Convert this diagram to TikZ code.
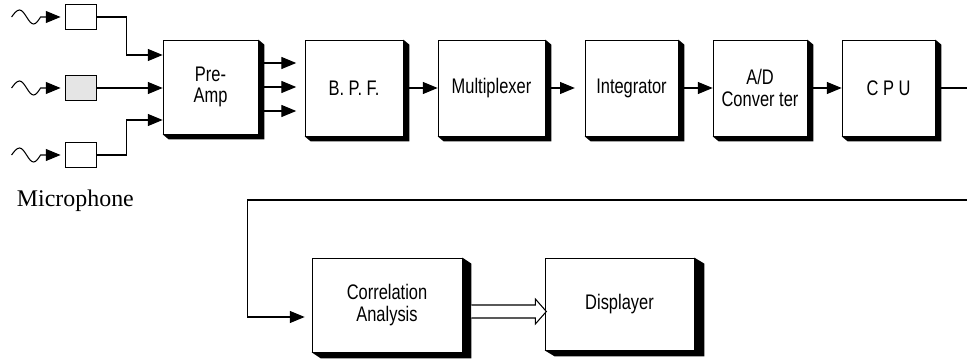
\documentclass[tikz,border=0pt]{standalone}
\usepackage{fontspec}
\usetikzlibrary{arrows.meta,calc}
\newfontfamily\boxfont[FakeStretch=0.78]{Liberation Sans}
\newfontfamily\labelfont{Liberation Serif}
\newcommand{\pxu}{0.025cm}

\tikzset{
  block/.style 2 args={draw, line width=0.5pt, fill=white, inner sep=0pt, align=center,
    font=\boxfont\fontsize{15}{15.5}\selectfont,
    minimum width=#1*\pxu, minimum height=#2*\pxu},
  micbox/.style={draw, line width=0.6pt, minimum width=31*\pxu, minimum height=25*\pxu, inner sep=0pt},
  wire/.style={line width=0.75pt},
  arr/.style={wire, -{Triangle[length=10.5pt,width=8.5pt]}},
}

\begin{document}
\begin{tikzpicture}[x=\pxu, y=-\pxu]
  \useasboundingbox (0,0) rectangle (967,359);

  % Microphones
  \node[micbox] (mic1) at (80.5,17) {};
  \node[micbox, fill=gray!20] (mic2) at (80.5,88) {};
  \node[micbox] (mic3) at (80.5,155) {};
  \node[anchor=base west, font=\labelfont\fontsize{17}{19}\selectfont] (miclabel) at (12,207) {Microphone};

  % Blocks
  \node[block={95}{94}] (preamp) at (210.5,87) {Pre-\\Amp};
  \node[block={98}{96}] (bpf) at (354,88) {B. P. F.};
  \node[block={107}{96}] (mux) at (491.5,88) {Multiplexer};
  \node[block={93}{96}] (integ) at (631.5,88) {Integrator};
  \node[block={94}{96}] (adc) at (760,88) {A/D\\Conver ter};
  \node[block={93}{96}] (cpu) at (888.5,88) {C P U};
  \node[block={150}{94}] (corr) at (387,305) {Correlation\\Analysis};
  \node[block={149}{92}] (disp) at (619.5,304) {Displayer};

  % Shadows
  \foreach \n/\dx/\dy in {preamp/6/5, bpf/6/5, mux/6/5, integ/6/5, adc/6/5, cpu/6/5, corr/9/6, disp/10/6} {
    \fill (\n.north east) -- ++(\dx,\dy) -- ($(\n.south east)+(\dx,\dy)$)
      -- ($(\n.south west)+(\dx,\dy)$) -- (\n.south west) -- (\n.south east) -- cycle;
    \coordinate (\n-out) at ($(\n.east)+(\dx,0)$);
  }

  % Waves
  \foreach \m in {mic1,mic2,mic3}
    \draw[arr] ($(\m.west)+(-53,0)$) sin ++(8,-7) cos ++(7,7) sin ++(7,7) cos ++(7,-7)
      -- ($(\m.west)+(-4,0)$);

  % Inputs
  \draw[arr] (mic1.east) -- ++(30,0) |- ($(preamp.west)+(0,-32)$);
  \draw[arr] (mic2.east) -- (mic2.east -| preamp.west);
  \draw[arr] (mic3.east) -- ++(30,0) |- ($(preamp.west)+(0,33)$);

  % Pre-Amp outputs
  \foreach \i/\d in {1/-24,2/0,3/24} {
    \coordinate (po\i) at ($(preamp-out)+(0,\d)$);
    \draw[arr, shorten >=6pt] (po\i) -- (po\i -| bpf.west);
  }

  % Chain
  \draw[arr] (bpf-out) -- (mux.west);
  \draw[arr, shorten >=7pt] (mux-out) -- (integ.west);
  \draw[arr] (integ-out) -- (adc.west);
  \draw[arr] (adc-out) -- (cpu.west);

  % Feedback loop
  \coordinate (edge) at (967,0);
  \coordinate (fb) at (967,200);
  \draw[wire] (cpu-out) -- (cpu-out -| edge);
  \draw[arr] (fb) -| ($(corr.west)+(-64,12)$) -- ($(corr.west)+(-7,12)$);

  % Hollow arrow
  \draw[wire, fill=white] (corr-out) -- ++(64,0) -- ++(0,-6) -- ++(11,12.5)
    -- ++(-11,12.5) -- ++(0,-6) -- ++(-64,0);
\end{tikzpicture}
\end{document}
